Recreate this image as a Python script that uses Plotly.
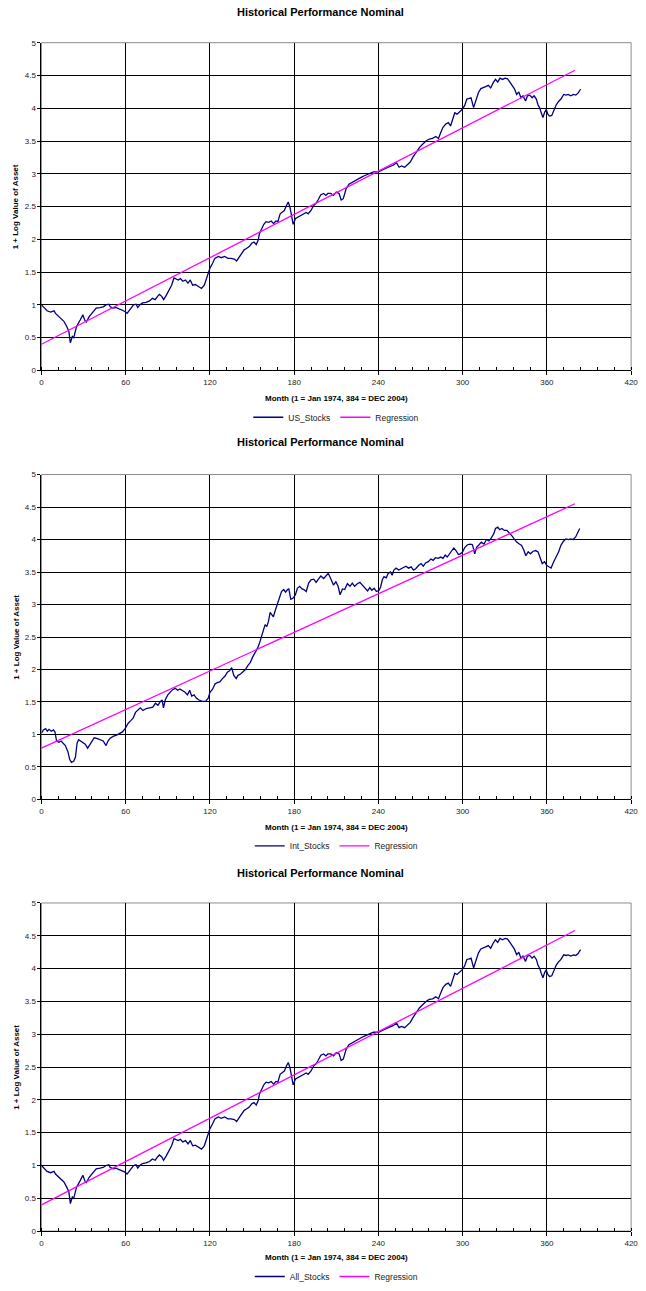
import plotly.graph_objects as go

W, H = 646, 1291

# ---------------- data ----------------
months_us = [0, 2, 4, 6.5, 9, 10, 11, 13.5, 16, 18, 19.5, 20.6, 21.3, 22, 23, 24, 25, 27.6, 29.5, 31,
             32, 34, 36, 37.5, 39, 41.7, 44, 46, 48, 49, 51, 53, 56, 58, 59.5, 61, 62, 64, 65.6, 67.4,
             68.6, 70, 72, 74.5, 77, 79, 81, 82.7, 84, 85.7, 87, 89, 91, 92.7, 94.4, 95.5, 97.4, 99, 100.7, 102.6,
             104.4, 106, 107.7, 109.6, 112, 114, 116, 118, 120, 122, 123.5, 126, 128, 130.5, 132.8, 135, 137.4, 139, 141, 142.8,
             144.4, 146, 148, 149.8, 151.4, 153, 154.4, 155.3, 156.7, 158.4, 160, 161.9, 163.7, 165.3, 167, 168.4, 170, 171.6, 173, 174.6,
             175.8, 177, 178, 179.3, 181, 182.8, 185, 187, 188.6, 190, 192, 194, 195.6, 197, 199, 201, 202.6, 204, 206, 208,
             210, 212, 213.5, 215, 217, 219, 220.5, 222, 224, 226, 228, 230, 233, 236.5, 240, 243.5, 247, 250.5, 252.9, 254.7,
             256.4, 258.7, 261, 262.7, 264.5, 266.9, 269.2, 271.5, 273.9, 276.2, 278.6, 280.9, 282.8, 284.4, 286, 288, 289.8, 291.4, 293, 294.4,
             296, 297.7, 299.6, 301.4, 303, 304.7, 306, 307.8, 309.4, 311.3, 313, 314.8, 316.4, 318.3, 320, 321.8, 323.4, 325, 326.6, 328.4,
             330.3, 332, 333.8, 335.4, 336.8, 338.5, 340, 341.5, 343, 344.8, 346.2, 347.8, 349.5, 350.9, 352.5, 353.7, 354.8, 356, 357.2, 358.4,
             359.5, 360.7, 361.9, 363.5, 365, 366.6, 368.2, 370, 372, 373.6, 375.2, 377, 379, 380.6, 382.2, 384]
us_stocks = [1.00, 0.95, 0.91, 0.89, 0.91, 0.87, 0.85, 0.81, 0.75, 0.67, 0.60, 0.42, 0.47, 0.52, 0.50, 0.60, 0.67, 0.77, 0.85, 0.76,
             0.74, 0.82, 0.87, 0.92, 0.95, 0.96, 0.97, 1.00, 1.01, 0.97, 0.95, 0.96, 0.93, 0.92, 0.90, 0.87, 0.90, 0.97, 1.00, 1.01,
             0.96, 1.00, 1.03, 1.04, 1.06, 1.10, 1.08, 1.13, 1.16, 1.13, 1.08, 1.15, 1.23, 1.30, 1.41, 1.40, 1.38, 1.40, 1.36, 1.38,
             1.33, 1.38, 1.30, 1.31, 1.28, 1.25, 1.30, 1.45, 1.56, 1.64, 1.71, 1.74, 1.72, 1.74, 1.71, 1.71, 1.70, 1.67, 1.74, 1.79,
             1.84, 1.86, 1.89, 1.94, 1.96, 1.92, 1.99, 2.09, 2.16, 2.23, 2.27, 2.26, 2.28, 2.24, 2.28, 2.27, 2.39, 2.42, 2.44, 2.52,
             2.57, 2.49, 2.37, 2.23, 2.32, 2.34, 2.37, 2.38, 2.41, 2.39, 2.44, 2.52, 2.55, 2.60, 2.68, 2.70, 2.67, 2.70, 2.70, 2.67,
             2.72, 2.70, 2.60, 2.62, 2.77, 2.84, 2.86, 2.88, 2.90, 2.93, 2.95, 2.97, 3.00, 3.03, 3.03, 3.07, 3.10, 3.13, 3.17, 3.10,
             3.12, 3.10, 3.14, 3.18, 3.25, 3.33, 3.40, 3.45, 3.50, 3.53, 3.54, 3.57, 3.54, 3.63, 3.71, 3.76, 3.78, 3.73, 3.83, 3.93,
             3.91, 3.94, 3.98, 4.04, 4.14, 4.15, 4.16, 4.01, 4.11, 4.24, 4.30, 4.31, 4.33, 4.35, 4.31, 4.39, 4.44, 4.40, 4.46, 4.44,
             4.46, 4.45, 4.39, 4.35, 4.30, 4.21, 4.25, 4.16, 4.19, 4.11, 4.19, 4.20, 4.16, 4.19, 4.14, 4.05, 4.01, 3.93, 3.86, 3.94,
             3.98, 3.91, 3.88, 3.89, 3.98, 4.05, 4.10, 4.14, 4.21, 4.20, 4.21, 4.19, 4.21, 4.20, 4.23, 4.29]

months_int = [0, 1.4, 3, 4.2, 5.4, 7, 8.5, 9.6, 10.8, 12.4, 14, 15.5, 17, 18.8, 20.2, 21.4, 23, 24.2, 25.4, 26.5,
              27.7, 29.6, 31.2, 32.9, 34.3, 36, 37.6, 39.4, 41.8, 44, 46, 47.4, 48.8, 51, 53.5, 56, 57.7, 59.6, 61.7, 63.4,
              65.3, 67, 68.8, 70.4, 72.3, 74.6, 77, 79.3, 81.2, 83, 84.5, 86, 86.9, 88.3, 90, 91.5, 93.4, 95.3, 97, 98.6,
              100.5, 102.3, 104, 105.6, 107, 108.7, 110.3, 112.2, 114.6, 116.9, 118.8, 120, 122, 123.7, 125.4, 127, 128.9, 130.8, 132.4, 134,
              135.5, 137, 138.7, 140, 141.8, 143.4, 145.3, 147, 148.8, 150.4, 152.3, 154.2, 155.8, 157, 158.2, 159.3, 160.5, 161.7, 162.9, 164,
              165.2, 166.4, 167.5, 168.7, 169.9, 171, 172.5, 173.9, 175.3, 176.2, 177.6, 179.3, 180.9, 182.3, 183.9, 185.6, 187, 188.6, 190.3, 192,
              194, 195.6, 197.3, 199, 201, 202.7, 204.3, 206, 208, 209.7, 211.3, 212.7, 214.4, 216, 217.9, 219.8, 221.4, 223, 225, 226.8,
              228.4, 230.7, 232.3, 233.9, 235.3, 237, 238.6, 240.5, 241.6, 242.8, 244, 245.6, 247, 248.6, 249.8, 251, 252.6, 254.5, 256.3, 258,
              259.6, 261.5, 263.3, 265, 266.6, 268.5, 270.4, 272, 273.6, 275.5, 277.4, 279, 280.6, 282.5, 284.4, 286, 287.6, 289, 290.7, 292.3,
              293.7, 295.3, 297, 298.4, 300, 301.6, 303.5, 305.4, 307, 308.6, 310, 311.7, 313.3, 315.2, 317, 318.7, 320.3, 322.2, 323.4, 325,
              326.4, 328, 329.7, 331.5, 333.4, 335, 336.7, 338.5, 340.4, 342, 343.7, 345, 346.7, 348.3, 350.2, 352, 353.7, 355.3, 356.7, 358.4,
              360, 361.4, 363, 364.7, 366.5, 368.4, 370, 371.7, 373.5, 375.4, 377, 378.6, 380.5, 381.7, 383.4]
int_stocks = [1.02, 1.07, 1.09, 1.05, 1.08, 1.05, 1.07, 1.04, 0.90, 0.88, 0.90, 0.87, 0.83, 0.74, 0.61, 0.57, 0.59, 0.65, 0.87, 0.92,
              0.90, 0.87, 0.85, 0.79, 0.84, 0.90, 0.95, 0.94, 0.92, 0.90, 0.83, 0.90, 0.94, 0.97, 0.99, 1.02, 1.04, 1.09, 1.17, 1.21,
              1.25, 1.34, 1.37, 1.41, 1.37, 1.40, 1.41, 1.42, 1.48, 1.45, 1.50, 1.53, 1.41, 1.54, 1.61, 1.65, 1.69, 1.71, 1.68, 1.70,
              1.68, 1.65, 1.61, 1.68, 1.59, 1.61, 1.56, 1.53, 1.51, 1.51, 1.56, 1.65, 1.70, 1.78, 1.80, 1.81, 1.86, 1.90, 1.96, 1.98,
              2.03, 1.91, 1.86, 1.91, 1.93, 1.96, 2.00, 2.06, 2.11, 2.19, 2.26, 2.34, 2.44, 2.54, 2.64, 2.69, 2.66, 2.74, 2.88, 2.85,
              2.81, 2.90, 2.97, 3.02, 3.10, 3.20, 3.23, 3.19, 3.23, 3.24, 3.08, 3.10, 3.15, 3.25, 3.28, 3.24, 3.23, 3.20, 3.33, 3.38,
              3.39, 3.34, 3.39, 3.44, 3.40, 3.45, 3.48, 3.40, 3.30, 3.35, 3.28, 3.15, 3.24, 3.23, 3.32, 3.28, 3.33, 3.28, 3.32, 3.34,
              3.30, 3.26, 3.21, 3.26, 3.22, 3.25, 3.20, 3.22, 3.27, 3.38, 3.43, 3.41, 3.48, 3.50, 3.45, 3.53, 3.56, 3.53, 3.55, 3.58,
              3.59, 3.56, 3.58, 3.53, 3.55, 3.60, 3.63, 3.59, 3.64, 3.66, 3.70, 3.68, 3.72, 3.71, 3.73, 3.71, 3.76, 3.73, 3.78, 3.81,
              3.87, 3.83, 3.77, 3.78, 3.81, 3.88, 3.92, 3.93, 3.92, 3.78, 3.88, 3.92, 3.96, 3.93, 4.00, 3.98, 4.02, 4.09, 4.17, 4.19,
              4.15, 4.17, 4.14, 4.14, 4.10, 4.06, 4.01, 3.96, 3.93, 3.91, 3.83, 3.75, 3.81, 3.78, 3.82, 3.83, 3.81, 3.71, 3.63, 3.66,
              3.60, 3.58, 3.56, 3.65, 3.72, 3.81, 3.91, 3.97, 4.01, 4.00, 4.01, 4.00, 4.04, 4.10, 4.17]

# the third chart shows the same series as the first
months_all = list(months_us)
all_stocks = list(us_stocks)

reg_months = [0, 380]
reg_us = [0.40, 4.58]
reg_int = [0.79, 4.55]
reg_all = [0.40, 4.58]

x_ticks = [0, 60, 120, 180, 240, 300, 360, 420]
y_ticks = [0, 0.5, 1, 1.5, 2, 2.5, 3, 3.5, 4, 4.5, 5]
y_tick_labels = ["0", "0.5", "1", "1.5", "2", "2.5", "3", "3.5", "4", "4.5", "5"]

series_names = ["US_Stocks", "Int_Stocks", "All_Stocks"]
chart_title = "Historical Performance Nominal"
x_title = "Month (1 = Jan 1974, 384 = DEC 2004)"
y_title = "1 + Log Value of Asset"

# ---------------- layout geometry (pixels) ----------------
FONT = "Liberation Sans, Arial, sans-serif"
PX_L, PX_R = 40, 638
panels = [
    dict(top=39.0, bottom=369.3, title_y=8.5, xt_y=398.0, leg_y=416.5),
    dict(top=474.2, bottom=801.7, title_y=441.5, xt_y=829.5, leg_y=848.5),
    dict(top=906.0, bottom=1236.7, title_y=875.5, xt_y=1263.3, leg_y=1282.5),
]
data_sets = [
    (months_us, us_stocks, reg_us),
    (months_int, int_stocks, reg_int),
    (months_all, all_stocks, reg_all),
]


def py(p):
    return 1 - p / H


def px(p):
    return p / W


fig = go.Figure()
annotations = []
shapes = []
layout = dict(
    width=W, height=H, autosize=False,
    margin=dict(l=0, r=0, t=0, b=0),
    paper_bgcolor="white", plot_bgcolor="white",
    font=dict(family=FONT, color="#000"),
    showlegend=True,
)

for i, (pan, (mx, vals, reg), name) in enumerate(zip(panels, data_sets, series_names)):
    n = "" if i == 0 else str(i + 1)
    xa, ya = "x" + n, "y" + n
    leg = "legend" + n
    fig.add_trace(go.Scatter(x=mx, y=vals, mode="lines", name=name,
                             line=dict(color="#000080", width=1.3),
                             xaxis=xa, yaxis=ya, legend=leg))
    fig.add_trace(go.Scatter(x=reg_months, y=reg, mode="lines", name="Regression",
                             line=dict(color="#FF00FF", width=1.3),
                             xaxis=xa, yaxis=ya, legend=leg))
    layout["xaxis" + n] = dict(
        domain=[px(PX_L), px(PX_R)], range=[0, 420], anchor=ya,
        tickmode="array", tickvals=x_ticks, ticktext=[str(v) for v in x_ticks],
        showgrid=True, gridcolor="#000", gridwidth=1, zeroline=False,
        showline=True, linecolor="#000", linewidth=1,
        ticks="outside", ticklen=4, tickcolor="#000",
        minor=dict(dtick=12, tick0=0, ticks="inside", ticklen=3, tickcolor="#000", showgrid=False),
        tickfont=dict(size=8, color="#222", family=FONT), fixedrange=True,
    )
    layout["yaxis" + n] = dict(
        domain=[py(pan["bottom"]), py(pan["top"])], range=[0, 5], anchor=xa,
        tickmode="array", tickvals=y_ticks, ticktext=y_tick_labels,
        showgrid=True, gridcolor="#000", gridwidth=1, zeroline=False,
        showline=True, linecolor="#000", linewidth=1,
        ticks="outside", ticklen=3, tickcolor="#000",
        tickfont=dict(size=8, color="#222", family=FONT), fixedrange=True,
    )
    layout[leg] = dict(
        orientation="h", x=(px(PX_L) + px(PX_R)) / 2, xanchor="center",
        y=py(pan["leg_y"]), yanchor="middle",
        font=dict(size=8.5, family=FONT, color="#222"),
        bgcolor="rgba(0,0,0,0)", itemwidth=30, traceorder="normal",
    )
    shapes.append(dict(type="rect", xref=xa + " domain", yref=ya + " domain",
                       x0=0, x1=1, y0=0, y1=1, line=dict(color="#8c8c8c", width=1),
                       layer="below"))
    annotations.append(dict(text="<b>" + chart_title + "</b>", xref="paper", yref="paper",
                            x=0.5, y=py(pan["title_y"]), xanchor="center", yanchor="middle",
                            showarrow=False, font=dict(size=11, family=FONT, color="#000")))
    annotations.append(dict(text="<b>" + x_title + "</b>", xref="paper", yref="paper",
                            x=(px(PX_L) + px(PX_R)) / 2, y=py(pan["xt_y"]),
                            xanchor="center", yanchor="middle",
                            showarrow=False, font=dict(size=8, family=FONT, color="#000")))
    annotations.append(dict(text="<b>" + y_title + "</b>", xref="paper", yref="paper",
                            x=px(14), y=py((pan["top"] + pan["bottom"]) / 2),
                            xanchor="center", yanchor="middle", textangle=-90,
                            showarrow=False, font=dict(size=8, family=FONT, color="#000")))

layout["annotations"] = annotations
layout["shapes"] = shapes
fig.update_layout(**layout)
fig.write_html(
    "out.html",
    config={"displayModeBar": False, "staticPlot": True},
    post_script="document.body.style.margin='0';document.body.style.padding='0';"
                "document.body.style.overflow='hidden';",
)
